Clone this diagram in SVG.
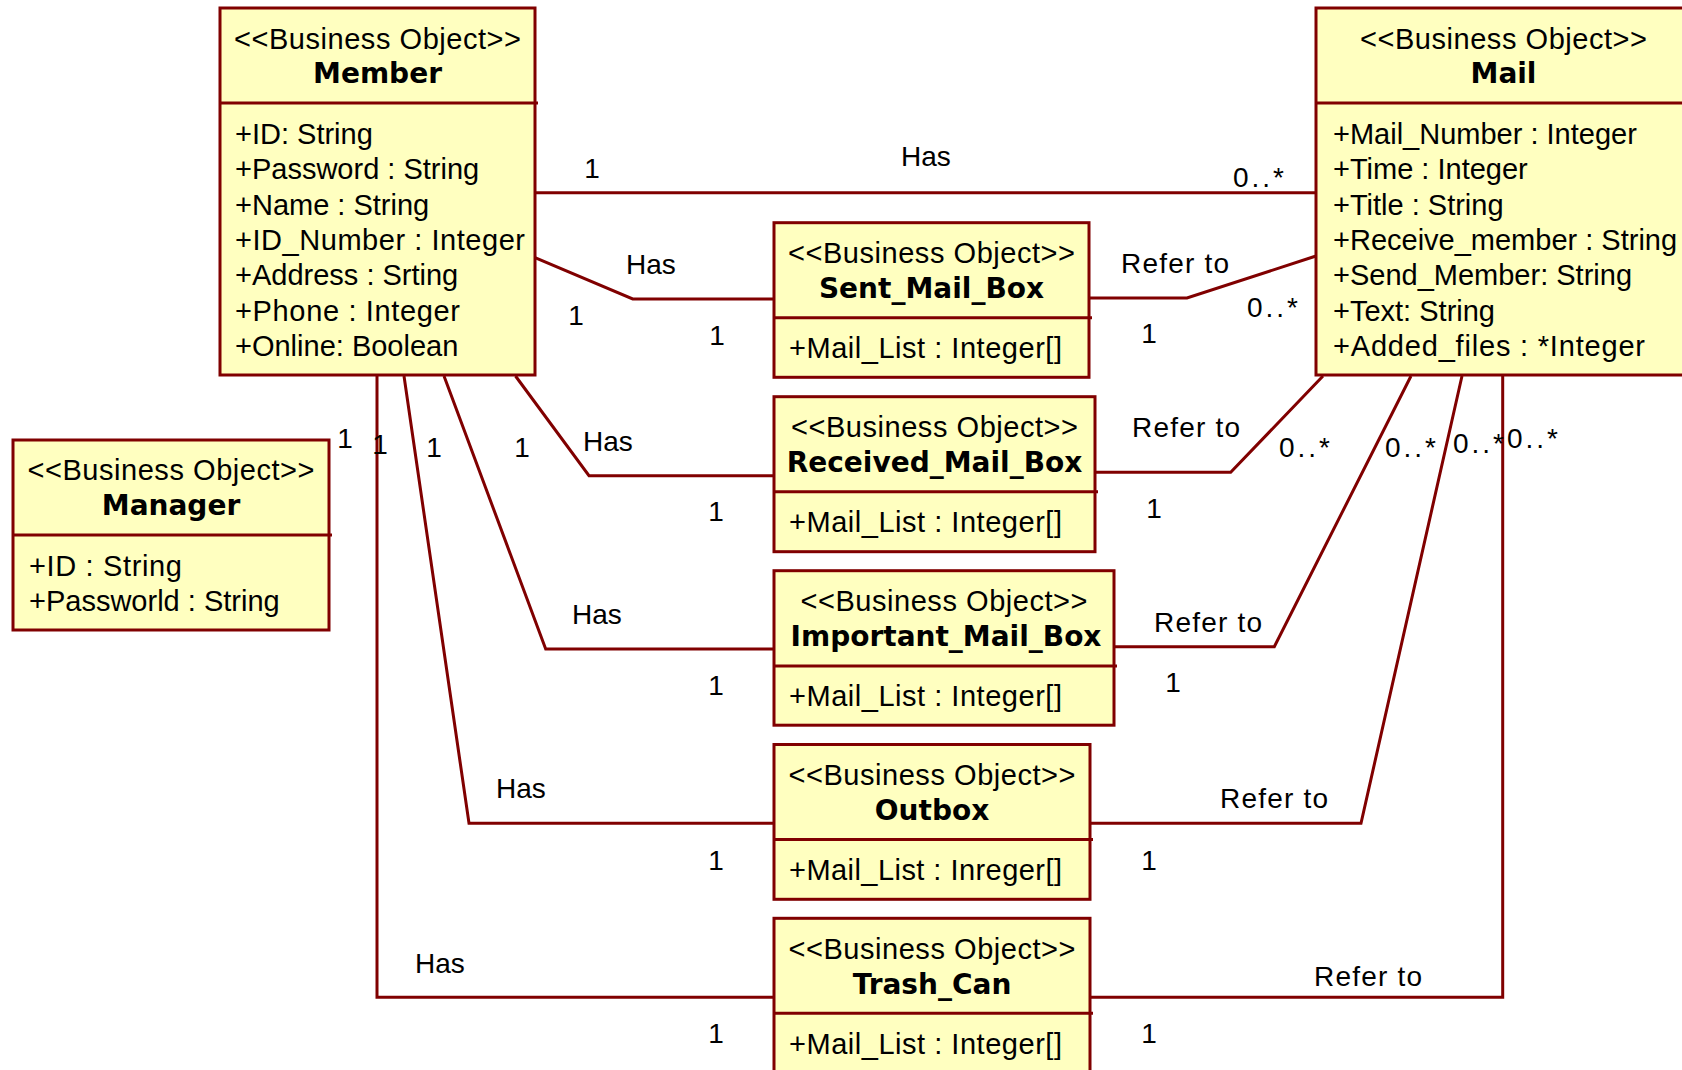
<svg xmlns="http://www.w3.org/2000/svg" width="1682" height="1070" viewBox="0 0 1682 1070">
<style>
.box{fill:#ffffc0;stroke:#800000;stroke-width:3}
.div{stroke:#800000;stroke-width:3;fill:none}
.con{stroke:#800000;stroke-width:3;fill:none;stroke-linejoin:miter}
.st{font-family:"Liberation Sans",Arial,sans-serif;font-size:29px;fill:#000;text-anchor:middle}
.nm{font-family:"DejaVu Sans","Liberation Sans",sans-serif;font-size:28px;font-weight:bold;fill:#000;text-anchor:middle}
.at{font-family:"Liberation Sans",Arial,sans-serif;font-size:29px;fill:#000}
.lb{font-family:"Liberation Sans",Arial,sans-serif;font-size:28px;fill:#000}
.lm{font-family:"Liberation Sans",Arial,sans-serif;font-size:28px;fill:#000;text-anchor:middle}
</style>
<rect width="1682" height="1070" fill="#ffffff"/>
<g id="connectors">
<polyline class="con" points="535,192.7 1316,192.7"/>
<polyline class="con" points="535,257.7 632.7,299 774,299"/>
<polyline class="con" points="1089,298 1187,298 1316,256"/>
<polyline class="con" points="515.5,376 589,475.7 774,475.7"/>
<polyline class="con" points="1095,472.3 1230.7,472.3 1323,376"/>
<polyline class="con" points="444,376 545.7,649 774,649"/>
<polyline class="con" points="1114,646.7 1274.3,646.7 1411,376"/>
<polyline class="con" points="404,376 469,823.3 774,823.3"/>
<polyline class="con" points="1090,823.3 1361,823.3 1462,376"/>
<polyline class="con" points="377,376 377,997.3 774,997.3"/>
<polyline class="con" points="1090,997.3 1502.7,997.3 1502.7,376"/>
<text class="lm" x="592" y="178">1</text>
<text class="lb" x="901" y="166">Has</text>
<text class="lb" x="1233" y="187" textLength="51" lengthAdjust="spacing">0..*</text>
<text class="lb" x="626" y="274">Has</text>
<text class="lm" x="576" y="325">1</text>
<text class="lm" x="717" y="345">1</text>
<text class="lb" x="1121" y="273" textLength="108" lengthAdjust="spacing">Refer to</text>
<text class="lb" x="1247" y="317" textLength="51" lengthAdjust="spacing">0..*</text>
<text class="lm" x="1149" y="343">1</text>
<text class="lb" x="583" y="451">Has</text>
<text class="lm" x="522" y="457">1</text>
<text class="lm" x="716" y="521">1</text>
<text class="lb" x="1132" y="437" textLength="108" lengthAdjust="spacing">Refer to</text>
<text class="lb" x="1279" y="457" textLength="51" lengthAdjust="spacing">0..*</text>
<text class="lm" x="1154" y="518">1</text>
<text class="lb" x="572" y="624">Has</text>
<text class="lm" x="434" y="457">1</text>
<text class="lm" x="716" y="695">1</text>
<text class="lb" x="1154" y="632" textLength="108" lengthAdjust="spacing">Refer to</text>
<text class="lb" x="1385" y="457" textLength="51" lengthAdjust="spacing">0..*</text>
<text class="lm" x="1173" y="692">1</text>
<text class="lb" x="496" y="798">Has</text>
<text class="lm" x="380" y="454">1</text>
<text class="lm" x="716" y="870">1</text>
<text class="lb" x="1220" y="808" textLength="108" lengthAdjust="spacing">Refer to</text>
<text class="lb" x="1453" y="453" textLength="51" lengthAdjust="spacing">0..*</text>
<text class="lm" x="1149" y="870">1</text>
<text class="lb" x="415" y="973">Has</text>
<text class="lm" x="345" y="448">1</text>
<text class="lm" x="716" y="1043">1</text>
<text class="lb" x="1314" y="986" textLength="108" lengthAdjust="spacing">Refer to</text>
<text class="lb" x="1507" y="448" textLength="51" lengthAdjust="spacing">0..*</text>
<text class="lm" x="1149" y="1043">1</text>
</g>
<g id="member">
<rect class="box" x="220" y="8" width="315" height="367"/>
<line class="div" x1="220" y1="103" x2="538" y2="103"/>
<text class="st" x="377.5" y="49" textLength="287" lengthAdjust="spacing">&lt;&lt;Business Object&gt;&gt;</text>
<text class="nm" x="377.5" y="83">Member</text>
<text class="at" x="235" y="144">+ID: String</text>
<text class="at" x="235" y="179.3">+Password : String</text>
<text class="at" x="235" y="214.7">+Name : String</text>
<text class="at" x="235" y="250" textLength="290" lengthAdjust="spacing">+ID_Number : Integer</text>
<text class="at" x="235" y="285.3">+Address : Srting</text>
<text class="at" x="235" y="320.7" textLength="225" lengthAdjust="spacing">+Phone : Integer</text>
<text class="at" x="235" y="356">+Online: Boolean</text>
</g>
<g id="mail">
<rect class="box" x="1316" y="8" width="375" height="367"/>
<line class="div" x1="1316" y1="103" x2="1691" y2="103"/>
<text class="st" x="1503.5" y="49" textLength="287" lengthAdjust="spacing">&lt;&lt;Business Object&gt;&gt;</text>
<text class="nm" x="1503.5" y="83">Mail</text>
<text class="at" x="1333" y="144">+Mail_Number : Integer</text>
<text class="at" x="1333" y="179.3">+Time : Integer</text>
<text class="at" x="1333" y="214.7">+Title : String</text>
<text class="at" x="1333" y="250">+Receive_member : String</text>
<text class="at" x="1333" y="285.3">+Send_Member: String</text>
<text class="at" x="1333" y="320.7">+Text: String</text>
<text class="at" x="1333" y="356" textLength="312" lengthAdjust="spacing">+Added_files : *Integer</text>
</g>
<g id="manager">
<rect class="box" x="13" y="440" width="316" height="190"/>
<line class="div" x1="13" y1="535" x2="332" y2="535"/>
<text class="st" x="171" y="480" textLength="287" lengthAdjust="spacing">&lt;&lt;Business Object&gt;&gt;</text>
<text class="nm" x="171" y="515">Manager</text>
<text class="at" x="29" y="576" textLength="153" lengthAdjust="spacing">+ID : String</text>
<text class="at" x="29" y="611">+Passworld : String</text>
</g>
<g id="sent_mail_box">
<rect class="box" x="774" y="222.7" width="315" height="154.6"/>
<line class="div" x1="774" y1="317.7" x2="1092" y2="317.7"/>
<text class="st" x="931.5" y="263" textLength="287" lengthAdjust="spacing">&lt;&lt;Business Object&gt;&gt;</text>
<text class="nm" x="931.5" y="298">Sent_Mail_Box</text>
<text class="at" x="789" y="358" textLength="273" lengthAdjust="spacing">+Mail_List : Integer[]</text>
</g>
<g id="received_mail_box">
<rect class="box" x="774" y="396.7" width="321" height="155"/>
<line class="div" x1="774" y1="491.7" x2="1098" y2="491.7"/>
<text class="st" x="934.5" y="437" textLength="287" lengthAdjust="spacing">&lt;&lt;Business Object&gt;&gt;</text>
<text class="nm" x="934.5" y="472">Received_Mail_Box</text>
<text class="at" x="789" y="532" textLength="273" lengthAdjust="spacing">+Mail_List : Integer[]</text>
</g>
<g id="important_mail_box">
<rect class="box" x="774" y="570.7" width="340" height="154.5"/>
<line class="div" x1="774" y1="666" x2="1117" y2="666"/>
<text class="st" x="944" y="611" textLength="287" lengthAdjust="spacing">&lt;&lt;Business Object&gt;&gt;</text>
<text class="nm" x="946" y="646">Important_Mail_Box</text>
<text class="at" x="789" y="706" textLength="273" lengthAdjust="spacing">+Mail_List : Integer[]</text>
</g>
<g id="outbox">
<rect class="box" x="774" y="744.5" width="316" height="154.8"/>
<line class="div" x1="774" y1="839.5" x2="1093" y2="839.5"/>
<text class="st" x="932" y="785" textLength="287" lengthAdjust="spacing">&lt;&lt;Business Object&gt;&gt;</text>
<text class="nm" x="932" y="820">Outbox</text>
<text class="at" x="789" y="880" textLength="273" lengthAdjust="spacing">+Mail_List : Inreger[]</text>
</g>
<g id="trash_can">
<rect class="box" x="774" y="918.3" width="316" height="160"/>
<line class="div" x1="774" y1="1013.3" x2="1093" y2="1013.3"/>
<text class="st" x="932" y="959" textLength="287" lengthAdjust="spacing">&lt;&lt;Business Object&gt;&gt;</text>
<text class="nm" x="932" y="994">Trash_Can</text>
<text class="at" x="789" y="1054" textLength="273" lengthAdjust="spacing">+Mail_List : Integer[]</text>
</g>
</svg>
